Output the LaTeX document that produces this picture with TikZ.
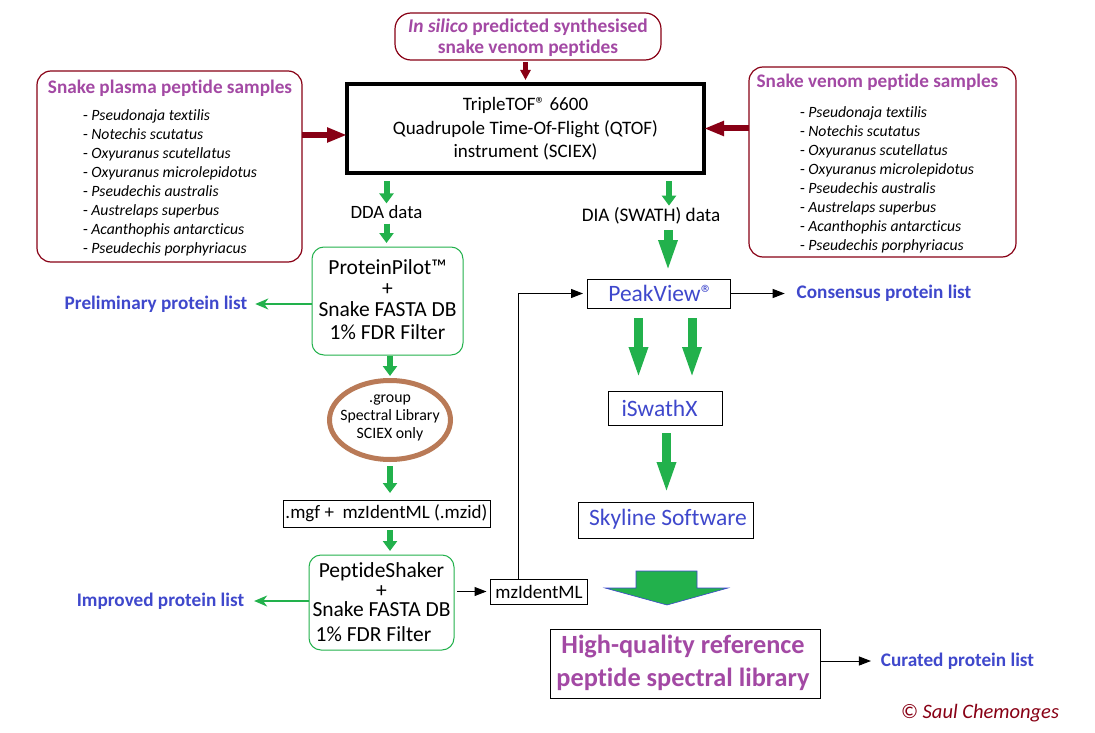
\documentclass[tikz,border=0pt]{standalone}
\usepackage{fontspec}
\setmainfont{Carlito}[Ligatures=NoCommon]
\usetikzlibrary{arrows.meta,shapes.geometric}
\definecolor{dred}{RGB}{136,0,21}
\definecolor{purp}{RGB}{163,73,164}
\definecolor{blu}{RGB}{63,72,204}
\definecolor{grn}{RGB}{34,177,76}
\definecolor{brn}{RGB}{185,122,87}
\begin{document}
\begin{tikzpicture}[x=1pt,y=-1pt,
  every node/.style={inner sep=0pt, outer sep=0pt},
  sbox/.style={draw=black, line width=1pt},
  gbox/.style={draw=grn, line width=1pt, rounded corners=12pt},
  rbox/.style={draw=dred, line width=1.2pt, rounded corners=14pt},
  ftxt/.style={font=\fontsize{19}{23.5}\selectfont, align=center},
  ptitle/.style={font=\fontsize{19.2}{22}\selectfont\bfseries, text=purp},
  slist/.style={font=\fontsize{15.7}{19}\selectfont, align=left},
  blab/.style={font=\fontsize{19.2}{22}\selectfont\bfseries, text=blu},
  btxt/.style={font=\fontsize{23.5}{26}\selectfont, text=blu},
  garrow/.style={draw=grn, line width=6pt, -{Triangle[width=14pt,length=10pt]}},
  bigarrow/.style={draw=grn, line width=9pt, -{Triangle[width=17pt,length=32pt]}},
  thinarrow/.style={draw=grn, line width=1.2pt, -{Stealth[width=11pt,length=13pt,inset=4pt]}},
  barrow/.style={draw=black, line width=1pt, -{Triangle[width=9pt,length=12pt]}},
  rarrow/.style={draw=dred, line width=6pt, -{Triangle[width=14pt,length=20pt]}}
]
\fill[white] (0,0) rectangle (1095,733);
\useasboundingbox (0,0) rectangle (1095,733);

% top source
\node[rbox, rounded corners=16pt, minimum width=266, minimum height=47] (insilico) at (528,36.5) {};
\node[ptitle, align=center, font=\fontsize{19.4}{21}\selectfont\bfseries] (insilicotext) at (528,37.5)
  {\textit{In silico} predicted synthesised\\snake venom peptides};

% instrument
\node[draw=black, line width=4pt, minimum width=357, minimum height=89] (tof) at (525.5,128.5) {};
\node[ftxt] (toftext) at (525.5,129) {TripleTOF® 6600\\Quadrupole Time-Of-Flight (QTOF)\\instrument (SCIEX)};

% plasma samples
\node[rbox, minimum width=265, minimum height=191] (plasma) at (169.5,166.5) {};
\node[ptitle] (plasmatitle) at (170,88) {Snake plasma peptide samples};
\node[slist, anchor=west] (plasmalist) at (83,182.5) {%
- \textit{Pseudonaja textilis}\\
- \textit{Notechis scutatus}\\
- \textit{Oxyuranus scutellatus}\\
- \textit{Oxyuranus microlepidotus}\\
- \textit{Pseudechis australis}\\
- \textit{Austrelaps superbus}\\
- \textit{Acanthophis antarcticus}\\
- \textit{Pseudechis porphyriacus}};

% venom samples
\node[rbox, minimum width=267, minimum height=190] (venom) at (882.5,162) {};
\node[ptitle] (venomtitle) at (877.5,82) {Snake venom peptide samples};
\node[slist, anchor=west] (venomlist) at (800,179.5) {%
- \textit{Pseudonaja textilis}\\
- \textit{Notechis scutatus}\\
- \textit{Oxyuranus scutellatus}\\
- \textit{Oxyuranus microlepidotus}\\
- \textit{Pseudechis australis}\\
- \textit{Austrelaps superbus}\\
- \textit{Acanthophis antarcticus}\\
- \textit{Pseudechis porphyriacus}};

% left branch
\node[ftxt, font=\fontsize{18.8}{22}\selectfont] (dda) at (386.5,212) {DDA data};
\node[gbox, minimum width=151, minimum height=108] (pp) at (387.5,301) {};
\node[align=center, font=\fontsize{21.5}{21}\selectfont] (pptext) at (387.5,300)
  {ProteinPilot™\\+\\Snake FASTA DB\\[2pt]1\% FDR Filter};
\node[blab] (prelim) at (156,304) {Preliminary protein list};
\node[ellipse, draw=brn, line width=5pt, minimum width=121, minimum height=79] (lib) at (390,420) {};
\node[align=center, font=\fontsize{15.8}{18}\selectfont] (libtext) at (390,418) {.group\\Spectral Library\\SCIEX only};
\node[sbox, minimum width=207, minimum height=27] (mgf) at (386.5,513.5) {};
\node[ftxt] (mgftext) at (386.5,513.5) {.mgf +~ mzIdentML (.mzid)};
\node[gbox, minimum width=145, minimum height=95] (ps) at (381.5,602.5) {};
\node[align=center, font=\fontsize{21.5}{19.5}\selectfont] (pstext) at (381.5,602)
  {PeptideShaker\\+\\Snake FASTA DB\\[5pt]\hspace*{-16pt}1\% FDR Filter};
\node[blab] (improved) at (160.5,601) {Improved protein list};
\node[sbox, minimum width=97, minimum height=25] (mzid) at (539,591.5) {};
\node[ftxt] (mzidtext) at (539,591.5) {mzIdentML};

% right branch
\node[ftxt, font=\fontsize{19.2}{22}\selectfont] (dia) at (651,216) {DIA (SWATH) data};
\node[sbox, minimum width=143, minimum height=29] (pv) at (658.5,293.5) {};
\node[btxt] (pvtext) at (660.5,293) {PeakView®};
\node[blab] (consensus) at (884,293) {Consensus protein list};
\node[sbox, minimum width=114, minimum height=34] (isw) at (665,408) {};
\node[btxt] (iswtext) at (659.5,408) {iSwathX};
\node[sbox, minimum width=175, minimum height=36] (sky) at (665.5,520) {};
\node[btxt] (skytext) at (668,519.5) {Skyline Software};
\node[sbox, minimum width=270, minimum height=69] (hq) at (685,663.5) {};
\node[align=center, text=purp, font=\fontsize{26.3}{33}\selectfont\bfseries] (hqtext) at (683,662.5)
  {High-quality reference\\peptide spectral library};
\node[blab] (curated) at (957.5,661) {Curated protein list};
\node[text=dred, font=\fontsize{20.5}{22}\selectfont\itshape] (copy) at (980,713) {© Saul Chemonges};

% helper coordinates
\coordinate (xdia) at (669,0);
\coordinate (xbig) at (668,0);
\coordinate (xpa) at (638.5,0);
\coordinate (xpb) at (692,0);
\coordinate (xsk) at (666.5,0);
\coordinate (xmz) at (518,0);

% red arrows
\draw[draw=dred, line width=5pt, -{Triangle[width=10pt,length=10pt]}, shorten <=2pt, shorten >=4pt]
  (insilico.south -| toftext) -- (tof.north -| toftext);
\draw[rarrow] ([yshift=-6.5pt]tof.west -| plasma.east) -- ([yshift=-6.5pt]tof.west);
\draw[rarrow] (tof.east -| venom.west) -- (tof.east);

% green small arrows left
\draw[garrow, shorten <=8pt, shorten >=2pt] (tof.south -| dda) -- (dda.north);
\draw[garrow, shorten <=5pt, shorten >=4pt] (dda.south) -- (pp.north -| dda);
\draw[garrow, shorten <=1pt, shorten >=4.5pt] (pp.south -| lib) -- (lib.north);
\draw[garrow, shorten <=6.5pt, shorten >=7pt] (lib.south) -- (mgf.north -| lib);
\draw[garrow, shorten <=3pt, shorten >=4pt] (mgf.south -| lib) -- (ps.north -| lib);
\draw[thinarrow, shorten >=8pt] (pp.west |- prelim.east) -- (prelim.east);
\draw[thinarrow, shorten >=10pt] (ps.west |- improved.east) -- (improved.east);

% right arrows
\draw[garrow, shorten <=8pt, shorten >=2pt] (tof.south -| xdia) -- (dia.north -| xdia);
\draw[bigarrow, shorten <=6pt, shorten >=7pt] (dia.south -| xbig) -- (pv.north -| xbig);
\draw[bigarrow, shorten <=10pt, shorten >=12pt] (pv.south -| xpa) -- (isw.north -| xpa);
\draw[bigarrow, shorten <=10pt, shorten >=12pt] (pv.south -| xpb) -- (isw.north -| xpb);
\draw[bigarrow, shorten <=8pt, shorten >=8pt] (isw.south -| xsk) -- (sky.north -| xsk);

% black connectors
\draw[barrow, shorten <=3pt, shorten >=4pt] (ps.east |- mzid.west) -- (mzid.west);
\draw[barrow, shorten >=4pt] (mzid.north -| xmz) |- (pv.west);
\draw[barrow, shorten >=12pt] (pv.east) -- (pv.east -| consensus.west);
\draw[barrow, shorten >=10pt] (hq.east |- curated.west) -- (curated.west);

% block arrow
\filldraw[fill=grn, draw=blu, line width=0.6pt]
  (636,571) -- (697,571) -- (697,588) -- (728,588) -- (667,605) -- (605,588) -- (636,588) -- cycle;
\end{tikzpicture}
\end{document}
